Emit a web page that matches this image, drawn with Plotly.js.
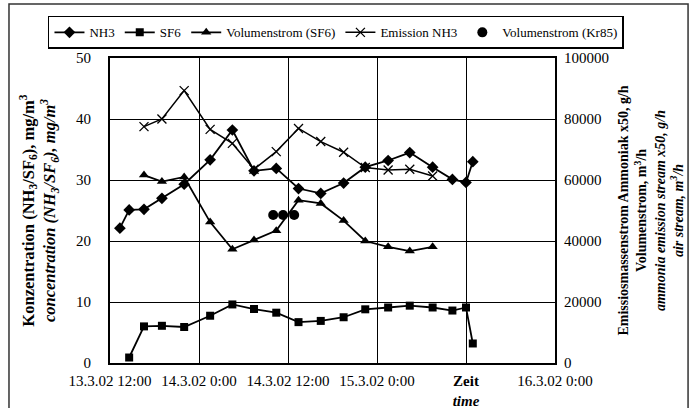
<!DOCTYPE html>
<html>
<head>
<meta charset="utf-8">
<script src="https://cdn.plot.ly/plotly-3.0.1.min.js"></script>
<style>html,body{margin:0;padding:0;background:#fff;}#chart{width:694px;height:408px;}</style>
</head>
<body>
<div id="chart"></div>
<script>
// ---- data ----
const timesNH3 = ['2002-03-13 13:20','2002-03-13 14:35','2002-03-13 16:35','2002-03-13 19:00','2002-03-13 22:00',
  '2002-03-14 01:30','2002-03-14 04:30','2002-03-14 07:25','2002-03-14 10:25','2002-03-14 13:25','2002-03-14 16:25',
  '2002-03-14 19:30','2002-03-14 22:25','2002-03-15 01:30','2002-03-15 04:25','2002-03-15 07:30','2002-03-15 10:10',
  '2002-03-15 12:00','2002-03-15 12:55'];
const valsNH3 = [22.1,25.1,25.2,27.0,29.3,33.3,38.2,31.5,31.9,28.6,27.8,29.5,32.1,33.2,34.5,32.1,30.1,29.6,33.0];

const timesSF6 = ['2002-03-13 14:35','2002-03-13 16:35','2002-03-13 19:00','2002-03-13 22:00',
  '2002-03-14 01:30','2002-03-14 04:30','2002-03-14 07:25','2002-03-14 10:25','2002-03-14 13:25','2002-03-14 16:25',
  '2002-03-14 19:30','2002-03-14 22:25','2002-03-15 01:30','2002-03-15 04:25','2002-03-15 07:30','2002-03-15 10:10',
  '2002-03-15 12:00','2002-03-15 12:55'];
const valsSF6 = [0.9,6.0,6.1,5.9,7.75,9.6,8.85,8.25,6.7,6.9,7.5,8.8,9.1,9.4,9.1,8.6,9.1,3.2];

const timesFlow = ['2002-03-13 16:35','2002-03-13 19:00','2002-03-13 22:00',
  '2002-03-14 01:30','2002-03-14 04:30','2002-03-14 07:25','2002-03-14 10:25','2002-03-14 13:25','2002-03-14 16:25',
  '2002-03-14 19:30','2002-03-14 22:25','2002-03-15 01:30','2002-03-15 04:25','2002-03-15 07:30'];
const valsFlowSF6 = [61600,59500,61000,46200,37300,40300,43400,53400,52300,46700,40000,38100,36700,38100];
const valsEmissionNH3 = [77500,80000,89300,76600,72000,63500,69300,76900,72600,69100,64100,63300,63500,61300];

const timesKr85 = ['2002-03-14 10:00','2002-03-14 11:20','2002-03-14 12:50'];
const valsKr85 = [48500,48500,48500];

const xTickVals = ['2002-03-13 12:00','2002-03-14 00:00','2002-03-14 12:00','2002-03-15 00:00','2002-03-15 12:00','2002-03-16 00:00'];
const xTickText = ['13.3.02 12:00','14.3.02 0:00','14.3.02 12:00','15.3.02 0:00','<b>Zeit</b><br><b><i>time</i></b>','16.3.02 0:00'];

const seriesNames = ['NH3','SF6','Volumenstrom (SF6)','Emission NH3','Volumenstrom (Kr85)'];

const FONT = '"Liberation Serif", "Times New Roman", serif';
const lineStyle = {color:'#000', width:1.8};

const traces = [
  {x:timesNH3, y:valsNH3, name:seriesNames[0], mode:'lines+markers', yaxis:'y',
   line:lineStyle, marker:{symbol:'diamond', size:9, color:'#000'}},
  {x:timesSF6, y:valsSF6, name:seriesNames[1], mode:'lines+markers', yaxis:'y',
   line:lineStyle, marker:{symbol:'square', size:8, color:'#000'}},
  {x:timesFlow, y:valsFlowSF6, name:seriesNames[2], mode:'lines+markers', yaxis:'y2',
   line:lineStyle, marker:{symbol:'triangle-up', size:9, color:'#000'}},
  {x:timesFlow, y:valsEmissionNH3, name:seriesNames[3], mode:'lines+markers', yaxis:'y2',
   line:{color:'#000', width:1.5}, marker:{symbol:'x-thin-open', size:9, color:'#000', line:{color:'#000', width:1.3}}},
  {x:timesKr85, y:valsKr85, name:seriesNames[4], mode:'markers', yaxis:'y2',
   marker:{symbol:'circle', size:10, color:'#000'}}
];

const layout = {
  width:694, height:408,
  margin:{l:110, r:139, t:58, b:45},
  paper_bgcolor:'#fff', plot_bgcolor:'#fff',
  font:{family:FONT, size:15, color:'#000'},
  showlegend:true,
  legend:{orientation:'h', x:1.155, y:1.138, xanchor:'right', yanchor:'top',
    bordercolor:'#000', borderwidth:1.5, bgcolor:'#fff', font:{family:FONT, size:13, color:'#000'},
    itemwidth:30, traceorder:'normal'},
  xaxis:{type:'date', range:['2002-03-13 12:00','2002-03-16 00:00'],
    tickmode:'array', tickvals:xTickVals, ticktext:xTickText,
    showgrid:true, gridcolor:'#000', gridwidth:1,
    showline:true, linecolor:'#000', linewidth:2, mirror:true,
    ticks:'', ticklabelstandoff:3, tickfont:{family:FONT, size:15, color:'#000'}, zeroline:false},
  yaxis:{range:[0,50], dtick:10, tick0:0,
    showgrid:true, gridcolor:'#000', gridwidth:1,
    showline:true, linecolor:'#000', linewidth:2, mirror:true,
    ticks:'', ticklabelstandoff:14, zeroline:false,
    tickfont:{family:FONT, size:15, color:'#000'},
    title:{text:'<b>Konzentration (NH<sub>3</sub>/SF<sub>6</sub>), mg/m<sup>3</sup></b><br><b><i>concentration (NH<sub>3</sub>/SF<sub>6</sub>), mg/m<sup>3</sup></i></b>',
      font:{family:FONT, size:16.5, color:'#000'}, standoff:16}},
  yaxis2:{range:[0,100000], dtick:20000, tick0:0, overlaying:'y', side:'right',
    showgrid:false, showline:false, ticks:'', ticklabelstandoff:8, tickformat:'d', zeroline:false,
    tickfont:{family:FONT, size:15, color:'#000'},
    title:{text:'<b>Emissiosmassenstrom Ammoniak x50, g/h</b><br><b>Volumenstrom, m<sup>3</sup>/h</b><br><b><i>ammonia emission stream x50, g/h</i></b><br><b><i>air stream, m<sup>3</sup>/h</i></b>',
      font:{family:FONT, size:14, color:'#000'}, standoff:10}},
  shapes:[
    {type:'rect', xref:'paper', yref:'paper', x0:-0.227, x1:1.299, y0:-0.3, y1:1.177,
     line:{color:'#333', width:1.5}, fillcolor:'rgba(0,0,0,0)', layer:'below'}
  ]
};

Plotly.newPlot('chart', traces, layout, {displayModeBar:false, staticPlot:true});
</script>
</body>
</html>
